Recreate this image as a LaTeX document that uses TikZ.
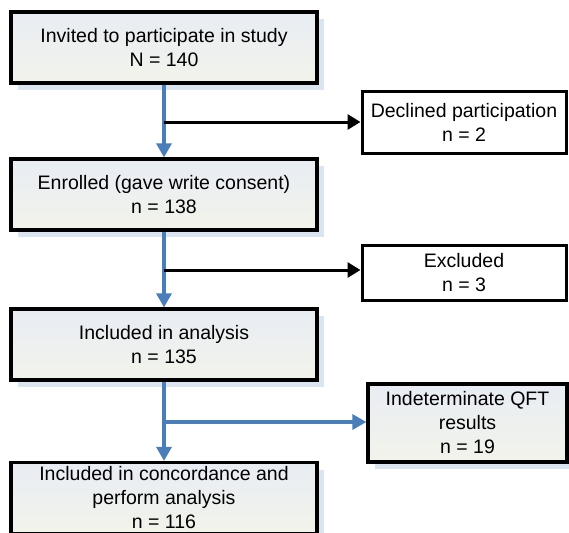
\documentclass[tikz,border=0pt]{standalone}
\usepackage{fontspec}
\setmainfont{Liberation Sans}
\usetikzlibrary{arrows.meta,shadows}
\definecolor{flowblue}{RGB}{74,126,187}
\definecolor{shadowblue}{RGB}{219,228,241}
\definecolor{boxtop}{RGB}{232,237,244}
\definecolor{boxbottom}{RGB}{242,243,234}

\begin{document}
\begin{tikzpicture}[x=1pt,y=-1pt,
    mainbox/.style={draw=black, line width=3.2pt, top color=boxtop, bottom color=boxbottom,
        drop shadow={shadow xshift=7pt, shadow yshift=-7pt, fill=shadowblue, opacity=1},
        minimum width=306pt, minimum height=71pt, inner sep=0pt, align=center,
        font=\fontsize{19.5}{24}\selectfont},
    sidebox/.style={draw=black, line width=3pt, fill=white, minimum width=204pt,
        inner sep=0pt, align=center, font=\fontsize{19.5}{24}\selectfont},
    flowline/.style={draw=flowblue, line width=3.2pt, -{Triangle[length=14pt,width=15pt]}},
    sideline/.style={draw=black, line width=3pt, -{Triangle[length=13pt,width=15pt]}}]
            \useasboundingbox (0,0) rectangle (569,532);

            \node[mainbox] (invited) at (164,47.5) {Invited to participate in study\\N = 140};
            \node[mainbox] (enrolled) at (164,194.5) {Enrolled (gave write consent)\\n = 138};
            \node[mainbox] (included) at (164,344.5) {Included in analysis\\n = 135};
            \node[mainbox] (concord) at (164,498) {Included in concordance and\\perform analysis\\n = 116};

            \node[sidebox, minimum height=61pt] (declined) at (464,122.5) {Declined participation\\n = 2};
            \node[sidebox, minimum height=55pt] (excluded) at (464,272.5) {Excluded\\n = 3};
            \node[mainbox, minimum width=199pt, minimum height=78pt] (indet) at (467.5,423) {Indeterminate QFT\\results\\n = 19};

            \coordinate (split1) at (164,122);
            \coordinate (split2) at (164,270);
            \coordinate (split3) at (164,422);

            \draw[flowline] (invited.south) -- (enrolled.north);
            \draw[flowline] (enrolled.south) -- (included.north);
            \draw[flowline] (included.south) -- (concord.north);

            \draw[sideline] (split1) -- (split1 -| declined.west);
            \draw[sideline] (split2) -- (split2 -| excluded.west);
            \draw[flowline] (split3) -- (split3 -| indet.west);
        \end{tikzpicture}
\end{document}
